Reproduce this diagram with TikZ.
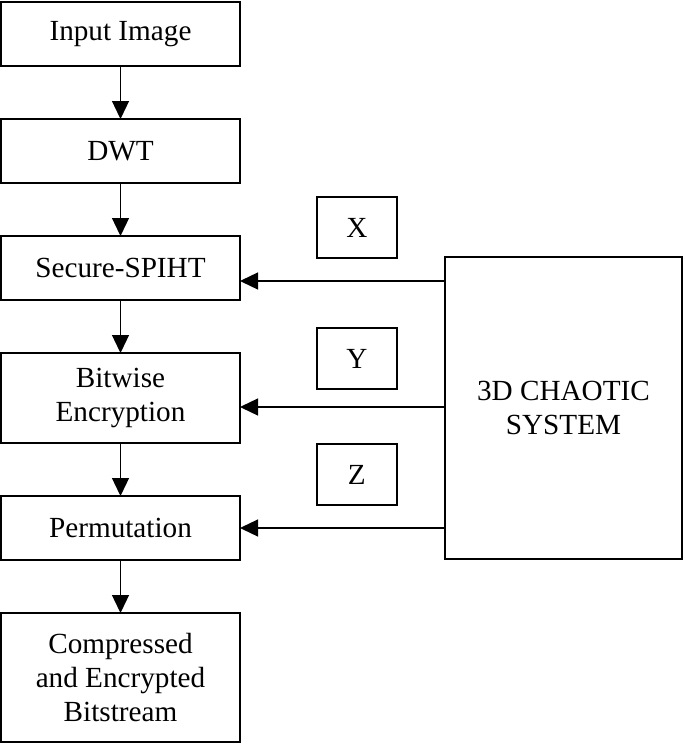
\documentclass[tikz,border=0pt]{standalone}
\usepackage{fontspec}
\setmainfont{Liberation Serif}
\usetikzlibrary{arrows.meta,positioning}

\begin{document}
\begin{tikzpicture}[x=1pt,y=1pt,node distance=26.5pt,
    box/.style={draw,line width=0.65pt,minimum width=119.5pt,
                minimum height=32pt,inner sep=2pt,outer sep=0pt,
                align=center,font=\fontsize{14.6}{17}\selectfont},
    key/.style={box,minimum width=40pt,minimum height=30.5pt},
    flow/.style={-{Triangle[length=9pt,width=8.5pt]},line width=0.65pt}]

    \useasboundingbox (0,0) rectangle (342.5,-372);

    \node[box] (img) at (60.25,-17) {Input Image};
    \node[box] (dwt)    [below=of img]    {DWT};
    \node[box] (spiht)  [below=of dwt]    {Secure-SPIHT};
    \node[box,minimum height=45pt] (bitenc) [below=of spiht] {Bitwise\\Encryption};
    \node[box] (perm)   [below=of bitenc] {Permutation};
    \node[box,minimum height=64.5pt] (out) [below=of perm]
      {Compressed\\and Encrypted\\Bitstream};

    \node[box,minimum width=118.5pt,minimum height=151pt] (chaos)
      at (281.75,-204) {3D CHAOTIC\\SYSTEM};

    \foreach \a/\b in {img/dwt,dwt/spiht,spiht/bitenc,bitenc/perm,perm/out}{
      \draw[flow] (\a) -- (\b);
    }

    % key streams from the chaotic system
    \foreach \t/\lab/\dy/\gap in {spiht/X/-6.5/11.5,bitenc/Y/-4.5/9,perm/Z/0/11.5}{
      \draw[flow] ([yshift=\dy pt]\t.east -| chaos.west) -- ([yshift=\dy pt]\t.east)
            node[key,pos=0.43,above=\gap pt] (key\lab) {\lab};
    }
  \end{tikzpicture}
\end{document}
